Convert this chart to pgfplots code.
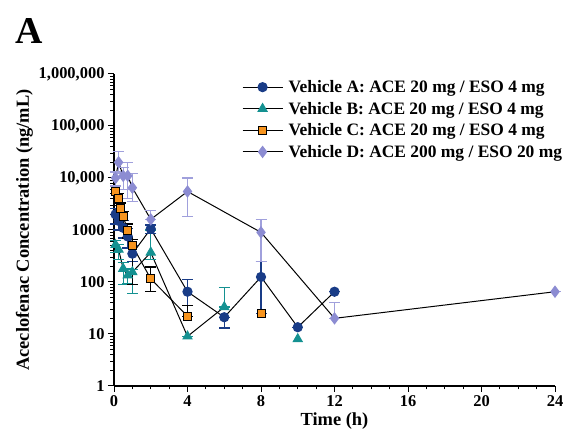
\documentclass[border=0pt]{standalone}
\usepackage{fontspec}
\setmainfont{Liberation Serif}
\usepackage{pgfplots}
\pgfplotsset{compat=1.18}

\definecolor{vehA}{RGB}{25,60,135}
\definecolor{vehB}{RGB}{20,145,145}
\definecolor{vehC}{RGB}{247,148,30}
\definecolor{vehD}{RGB}{140,140,210}
\definecolor{vehDbar}{RGB}{160,160,220}

\newcommand{\fs}{\bfseries\fontsize{16.5}{19}\selectfont}

\begin{document}
\begin{tikzpicture}[x=1bp,y=1bp]
\useasboundingbox (-114,-57) rectangle (453,386);
\begin{axis}[
  at={(0,0)}, anchor=south west,
  scale only axis, width=441bp, height=312bp,
  ymode=log,
  xmin=0, xmax=24, ymin=1, ymax=1000000,
  axis x line*=bottom, axis y line*=left,
  axis line style={line width=1.1pt},
  tick align=outside,
  major tick length=6bp, minor tick length=3.5bp,
  every tick/.style={black, line width=1pt},
  xtick={0,4,8,12,16,20,24},
  xticklabels={0,4,8,12,16,20,24},
  minor xtick={1,2,3,5,6,7,9,10,11,13,14,15,17,18,19,21,22,23},
  ytick={1,10,100,1000,10000,100000,1000000},
  yticklabels={1,10,100,1000,{10,000},{100,000},{1,000,000}},
  minor ytick={2,3,4,5,6,7,8,9,20,30,40,50,60,70,80,90,200,300,400,500,600,700,800,900,2000,3000,4000,5000,6000,7000,8000,9000,20000,30000,40000,50000,60000,70000,80000,90000,200000,300000,400000,500000,600000,700000,800000,900000},
  tick label style={font=\fs},
  xlabel={Time (h)}, ylabel={Aceclofenac Concentration (ng/mL)},
  label style={font=\bfseries\fontsize{18.5}{22}\selectfont},
  xlabel style={yshift=1bp},
  ylabel style={yshift=-1bp},
  legend style={draw=none, fill=none, at={(0.29,0.985)}, anchor=north west,
    font=\bfseries\fontsize{17.5}{20}\selectfont, row sep=5bp, inner sep=0pt,
    nodes={inner sep=1.5bp}},
  legend cell align=left,
  legend image code/.code={\draw[mark repeat=2,mark phase=2] plot coordinates {(0bp,0bp)(20bp,0bp)(40bp,0bp)};},
  every axis plot/.append style={line width=1pt},
  clip=false,
]
% Vehicle A
\addplot[black, mark=*, mark size=4.6bp, mark options={fill=vehA, draw=vehA},
  error bars/.cd, y dir=both, y explicit,
  error bar style={vehA, line width=1.2pt},
  error mark options={rotate=90, mark size=5.5bp, line width=1.2pt, vehA}]
coordinates {
 (0.083,2000) += (0,600) -= (0,700)
 (0.25,1500) += (0,500) -= (0,500)
 (0.5,1100) += (0,400) -= (0,400)
 (0.75,750) += (0,300) -= (0,300)
 (1,350) += (0,150) -= (0,100)
 (2,1050) += (0,200) -= (0,200)
 (4,65) += (0,45) -= (0,30)
 (6,21) += (0,0) -= (0,8)
 (8,125) += (0,125) -= (0,100)
 (10,13.5) += (0,0) -= (0,0)
 (12,65) += (0,0) -= (0,0)
};
\addlegendentry{\hspace{4bp}Vehicle A: ACE 20 mg / ESO 4 mg}
% Vehicle B
\addplot[black, mark=triangle*, mark size=5.2bp, mark options={fill=vehB, draw=vehB},
  error bars/.cd, y dir=both, y explicit,
  error bar style={vehB, line width=1.2pt},
  error mark options={rotate=90, mark size=5.5bp, line width=1.2pt, vehB}]
coordinates {
 (0.083,520) += (0,100) -= (0,150)
 (0.25,420) += (0,100) -= (0,150)
 (0.5,180) += (0,60) -= (0,90)
 (0.75,135) += (0,50) -= (0,40)
 (1,155) += (0,20) -= (0,95)
 (2,370) += (0,630) -= (0,100)
 (4,9) += (0,0) -= (0,0)
 (6,33) += (0,45) -= (0,0)
};
\addlegendentry{\hspace{4bp}Vehicle B: ACE 20 mg / ESO 4 mg}
% Vehicle C
\addplot[black, mark=square*, mark size=4bp, mark options={fill=vehC, draw=black, line width=0.8pt},
  error bars/.cd, y dir=both, y explicit,
  error bar style={black, line width=1.2pt},
  error mark options={rotate=90, mark size=5.5bp, line width=1.2pt, black}]
coordinates {
 (0.083,5500) += (0,1500) -= (0,1500)
 (0.25,4000) += (0,1000) -= (0,1000)
 (0.33,2600) += (0,700) -= (0,700)
 (0.5,1800) += (0,500) -= (0,500)
 (0.75,1000) += (0,300) -= (0,300)
 (1,500) += (0,150) -= (0,410)
 (2,115) += (0,80) -= (0,50)
 (4,22) += (0,13) -= (0,0)
};
\addlegendentry{\hspace{4bp}Vehicle C: ACE 20 mg / ESO 4 mg}
% Vehicle D
\addplot[black, mark=diamond*, mark size=5.5bp, mark options={fill=vehD, draw=vehD},
  error bars/.cd, y dir=both, y explicit,
  error bar style={vehDbar, line width=1.2pt},
  error mark options={rotate=90, mark size=5.5bp, line width=1.2pt, vehDbar}]
coordinates {
 (0.083,10000) += (0,3000) -= (0,3000)
 (0.25,20000) += (0,12000) -= (0,8000)
 (0.5,11000) += (0,5000) -= (0,5000)
 (0.75,11000) += (0,9000) -= (0,7000)
 (1,6500) += (0,5500) -= (0,3000)
 (2,1600) += (0,800) -= (0,0)
 (4,5500) += (0,4500) -= (0,3700)
 (8,900) += (0,700) -= (0,650)
 (12,20) += (0,20) -= (0,0)
 (24,65) += (0,0) -= (0,0)
};
\addlegendentry{\hspace{4bp}Vehicle D: ACE 200 mg / ESO 20 mg}
% unconnected points
\addplot[forget plot, only marks, mark=triangle*, mark size=5.2bp, mark options={fill=vehB, draw=vehB}]
coordinates {(10,8)};
\addplot[forget plot, only marks, mark=square*, mark size=4bp, mark options={fill=vehC, draw=black, line width=0.8pt}]
coordinates {(8,25)};
\end{axis}
\node[font=\bfseries\fontsize{38}{42}\selectfont] at (-85,355) {A};
\end{tikzpicture}
\end{document}
